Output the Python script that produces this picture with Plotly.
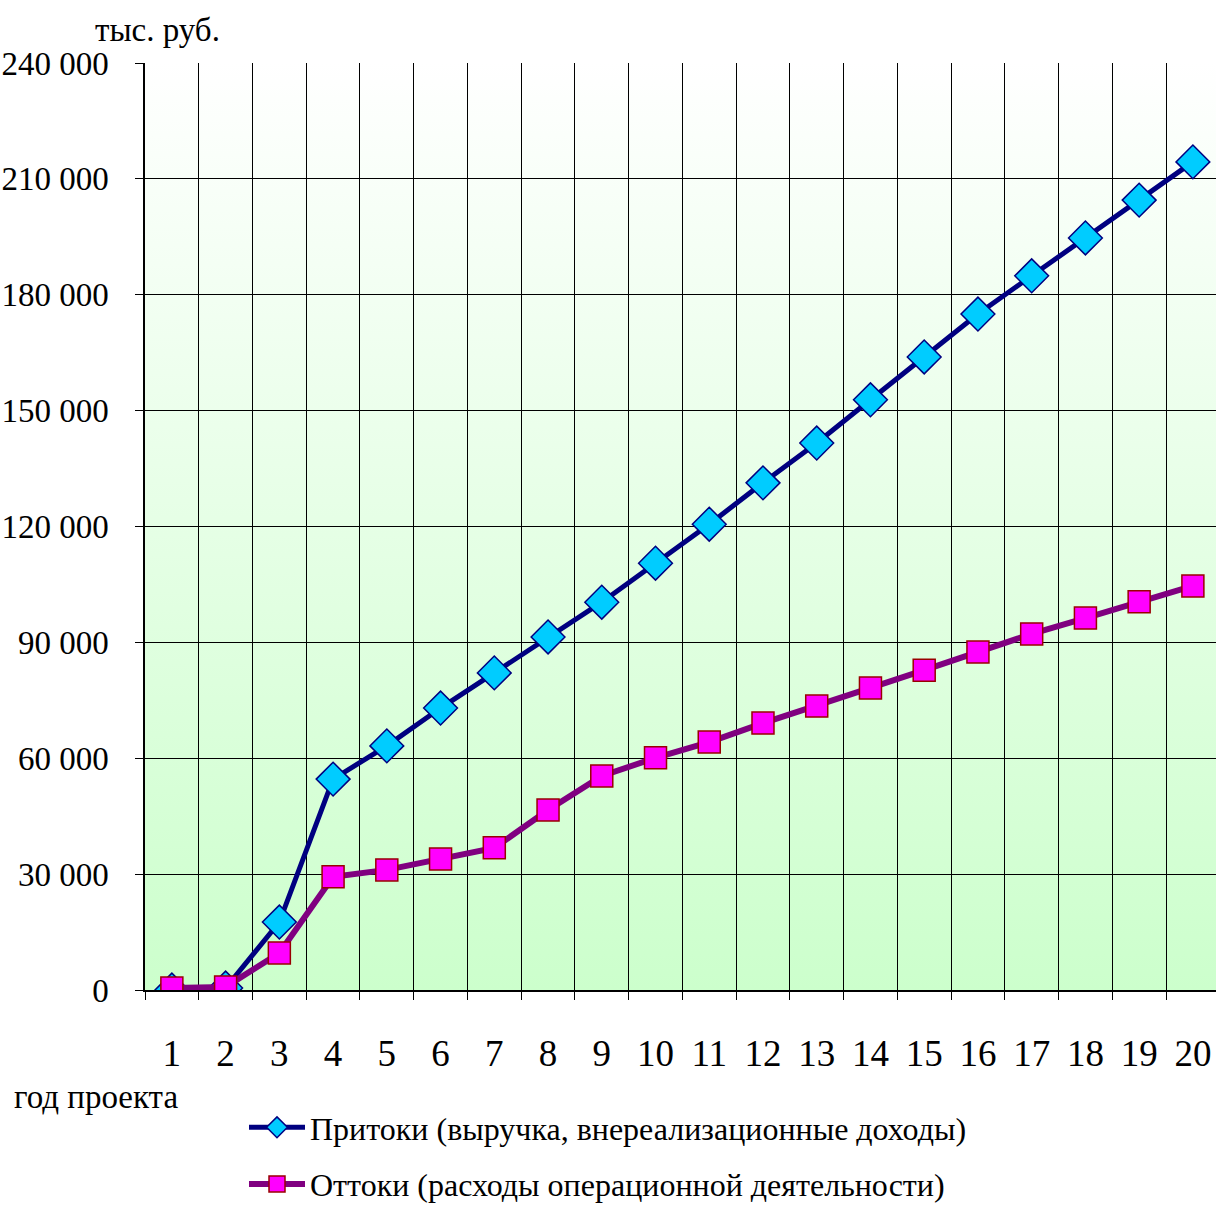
import urllib.parse
import plotly.graph_objects as go

# Project years and cash flows, thousand roubles
years = list(range(1, 21))
inflows = [0, 500, 17600, 54600, 63200, 73000, 82100, 91400, 100400, 110500,
           120600, 131300, 141600, 152800, 163900, 175000, 184900, 194700, 204500, 214400]
outflows = [500, 800, 9600, 29300, 31100, 33900, 36800, 46600, 55400, 60100,
            64200, 69100, 73500, 78200, 82800, 87500, 92200, 96300, 100500, 104600]

name_in = "Притоки (выручка, внереализационные доходы)"
name_out = "Оттоки (расходы операционной деятельности)"

FONT = "Liberation Serif"
W, H = 1216, 1207
ML, MT, MB = 145, 63, 217
PW, PH = W - ML, H - MT - MB
y_max = 240000
x_lo, x_hi = 0.5, 20.43


def px(x):
    return (x - ML) / PW


def py(y):
    return (H - MB - y) / PH


# vertical white-to-green gradient drawn under the grid
svg = ('<svg xmlns="http://www.w3.org/2000/svg" width="10" height="100" preserveAspectRatio="none">'
       '<defs><linearGradient id="g" x1="0" y1="0" x2="0" y2="1">'
       '<stop offset="0" stop-color="#ffffff"/><stop offset="1" stop-color="#ccffcc"/>'
       '</linearGradient></defs><rect width="10" height="100" fill="url(#g)"/></svg>')
bg_src = "data:image/svg+xml;charset=utf-8," + urllib.parse.quote(svg)

fig = go.Figure()

fig.add_trace(go.Scatter(
    x=years, y=inflows, name=name_in, mode="lines+markers", legendgroup="a",
    line=dict(color="#000080", width=5),
    marker=dict(symbol="diamond", size=26, color="#00ccff",
                line=dict(color="#000080", width=1.5)),
))
fig.add_trace(go.Scatter(
    x=years, y=outflows, name=name_out, mode="lines+markers", legendgroup="b",
    line=dict(color="#800080", width=6),
    marker=dict(symbol="square", size=22, color="#ff00ff",
                line=dict(color="#990000", width=1.5)),
))

fig.update_layout(
    width=W, height=H,
    margin=dict(l=ML, r=0, t=MT, b=MB, autoexpand=False),
    paper_bgcolor="white", plot_bgcolor="white",
    separators=", ",
    font=dict(family=FONT, size=33, color="black"),
    showlegend=True,
    legend=dict(
        xref="container", yref="container",
        x=244 / W, y=1 - 1100 / H, xanchor="left", yanchor="top",
        font=dict(family=FONT, size=32),
        bgcolor="rgba(0,0,0,0)", itemwidth=56,
        traceorder="grouped", tracegroupgap=12,
    ),
    images=[dict(source=bg_src, xref="x", yref="y", x=x_lo, y=y_max,
                 sizex=x_hi - x_lo, sizey=y_max, sizing="stretch",
                 xanchor="left", yanchor="top", layer="below")],
    annotations=[
        dict(text="тыс. руб.", x=px(157), y=py(30), xref="paper", yref="paper",
             showarrow=False, font=dict(family=FONT, size=33), xanchor="center", yanchor="middle"),
        dict(text="год проекта", x=px(96), y=py(1097), xref="paper", yref="paper",
             showarrow=False, font=dict(family=FONT, size=33), xanchor="center", yanchor="middle"),
    ],
)

fig.update_xaxes(
    range=[x_lo, x_hi], tickmode="array", tickvals=years, ticktext=[str(v) for v in years],
    showgrid=False, ticks="", ticklabelstandoff=30,
    tickfont=dict(family=FONT, size=37),
    showline=True, linecolor="black", linewidth=1.5, zeroline=False,
    minor=dict(tickmode="linear", tick0=0.5, dtick=1, showgrid=True,
               gridcolor="black", gridwidth=1, ticks="outside", ticklen=8, tickcolor="black"),
)
fig.update_yaxes(
    range=[0, y_max], tickmode="linear", tick0=0, dtick=30000, tickformat=",d",
    showgrid=True, gridcolor="black", gridwidth=1,
    ticks="outside", ticklen=8, tickcolor="black", ticklabelstandoff=20,
    tickfont=dict(family=FONT, size=33),
    showline=True, linecolor="black", linewidth=1.5, zeroline=False,
)

fig.write_html("out.html")
